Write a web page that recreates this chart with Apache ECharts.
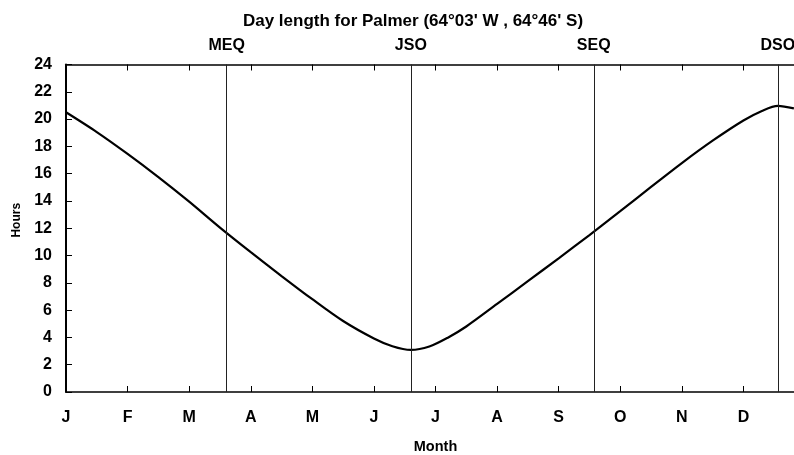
<!DOCTYPE html>
<html>
<head>
<meta charset="utf-8">
<script src="https://cdn.jsdelivr.net/npm/echarts@6/dist/echarts.min.js"></script>
<style>
  html, body { margin: 0; padding: 0; background: #fff; }
  #chart { width: 794px; height: 455px; }
</style>
</head>
<body>
<div id="chart"></div>
<script>
// month position (0 = 1 Jan, 1 unit per month) and day length in hours
var monthPos = [0, 0.5, 1, 1.5, 2, 2.5, 3, 3.5, 4, 4.5, 5, 5.3, 5.6, 5.9, 6.2, 6.5, 7, 7.5, 8, 8.5, 9, 9.5, 10, 10.5, 11, 11.3, 11.56, 11.82];
var hours    = [20.5, 19.05, 17.45, 15.75, 13.95, 12.05, 10.25, 8.5, 6.8, 5.2, 3.92, 3.35, 3.08, 3.33, 3.98, 4.8, 6.45, 8.12, 9.8, 11.5, 13.25, 15.03, 16.78, 18.42, 19.9, 20.6, 20.97, 20.78];
var monthLabels = ['J', 'F', 'M', 'A', 'M', 'J', 'J', 'A', 'S', 'O', 'N', 'D'];
// equinox / solstice markers
var eventNames = ['MEQ', 'JSO', 'SEQ', 'DSO'];
var eventPos   = [2.61, 5.6, 8.57, 11.56];

var font = 'Liberation Sans, Arial, sans-serif';
var chart = echarts.init(document.getElementById('chart'));

var points = monthPos.map(function (m, i) { return [m, hours[i]]; });
var marks = eventPos.map(function (p, i) { return { xAxis: p, name: eventNames[i] }; });

chart.setOption({
  animation: false,
  title: {
    text: 'Day length for Palmer (64°03\' W , 64°46\' S)',
    left: 408, top: 8, textAlign: 'center',
    textStyle: { fontFamily: font, fontSize: 17, fontWeight: 'bold', color: '#000' }
  },
  // plot runs past the right edge of the picture (Dec ends off-screen)
  grid: { left: 66, width: 739, top: 64.5, height: 327.5, outerBoundsMode: 'none' },
  xAxis: [{
    type: 'value', min: 0, max: 12, interval: 1,
    name: 'Month', nameLocation: 'middle', nameGap: 47,
    nameTextStyle: { fontFamily: font, fontSize: 14.5, fontWeight: 'bold', color: '#000' },
    axisLine: { lineStyle: { color: '#000', width: 1.5 } },
    axisTick: { inside: true, length: 6, lineStyle: { color: '#000' } },
    axisLabel: {
      margin: 18, fontFamily: font, fontSize: 16, fontWeight: 'bold', color: '#000',
      formatter: function (v) { return monthLabels[v] || ''; }
    },
    splitLine: { show: false }
  }, {
    type: 'value', min: 0, max: 12, interval: 1, position: 'top',
    axisLine: { lineStyle: { color: '#000', width: 1.5 } },
    axisTick: { inside: true, length: 6, lineStyle: { color: '#000' } },
    axisLabel: { show: false },
    splitLine: { show: false }
  }],
  yAxis: {
    type: 'value', min: 0, max: 24, interval: 2,
    name: 'Hours', nameLocation: 'middle', nameGap: 43,
    nameTextStyle: { fontFamily: font, fontSize: 12, fontWeight: 'bold', color: '#000', padding: [0, 0, 0, 16] },
    axisLine: { show: true, lineStyle: { color: '#000', width: 2 } },
    axisTick: { show: true, inside: true, length: 6, lineStyle: { color: '#000' } },
    axisLabel: { margin: 14, fontFamily: font, fontSize: 16, fontWeight: 'bold', color: '#000' },
    splitLine: { show: false }
  },
  series: [{
    type: 'line',
    data: points,
    smooth: 0.3,
    showSymbol: false,
    lineStyle: { color: '#000', width: 2.2 },
    markLine: {
      silent: true,
      symbol: 'none',
      data: marks,
      lineStyle: { color: '#222', width: 1, type: 'solid' },
      label: {
        position: 'end', distance: 11, formatter: '{b}',
        fontFamily: font, fontSize: 16, fontWeight: 'bold', color: '#000'
      }
    }
  }]
});
</script>
</body>
</html>
